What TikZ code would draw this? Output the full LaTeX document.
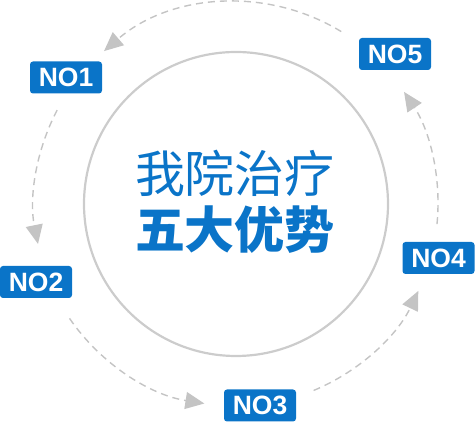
\documentclass[tikz,border=0pt]{standalone}
\usepackage{fontspec}
\setmainfont{Liberation Sans}
\newfontfamily\cjk{Noto Sans CJK SC}
\usepackage{tikz}
\usetikzlibrary{arrows.meta,calc}
\definecolor{noblue}{RGB}{10,116,200}
\definecolor{ringgray}{RGB}{204,204,204}
\definecolor{flowgray}{RGB}{196,196,196}

\begin{document}
\begin{tikzpicture}[x=1pt,y=1pt]
    \tikzstyle{badge}=[fill=noblue,text=white,rounded corners=3pt,minimum width=72pt,minimum height=32pt,inner sep=0pt,font=\fontsize{26.5}{26.5}\selectfont\bfseries]
    \tikzstyle{ring}=[draw=ringgray,line width=2.2pt]
    \tikzstyle{flow}=[draw=flowgray,line width=1.4pt,dash pattern=on 7pt off 5pt,-{Triangle[length=19pt,width=17pt,fill=flowgray]}]
    \tikzstyle{title}=[text=noblue,inner sep=0pt]

    \useasboundingbox (0,0) rectangle (475,422);
    \coordinate (C) at (236,218);

    % Draw the inner ring and the title
    \draw[ring] (C) circle[radius=152];
    \node[title,font=\cjk\fontsize{50}{50}\selectfont] (T-1) at (235,249) {我院治疗};
    \node[title,font=\cjk\bfseries\fontsize{50}{50}\selectfont] (T-2) at (235,192) {五大优势};

    % Draw the five badges
    \node[badge] (N-1) at (66,344.5) {NO1};
    \node[badge] (N-2) at (36,140) {NO2};
    \node[badge] (N-3) at (260,16.5) {NO3};
    \node[badge] (N-4) at (438.5,164) {NO4};
    \node[badge] (N-5) at (395,368) {NO5};

    % Dashed arcs between the badges
    \coordinate (A-5) at ($(C)+(58.6:202)$);
    \draw[flow] (A-5) arc[start angle=58.6,end angle=130.8,radius=202];
    \coordinate (A-1) at ($(C)+(152.3:202)$);
    \draw[flow] (A-1) arc[start angle=152.3,end angle=191.4,radius=202];
    \coordinate (A-2) at ($(C)+(214.5:202)$);
    \draw[flow] (A-2) arc[start angle=214.5,end angle=261,radius=202];
    \coordinate (A-3) at ($(C)+(292.6:202)$);
    \draw[flow] (A-3) arc[start angle=292.6,end angle=334.5,radius=202];
    \coordinate (A-4) at ($(C)+(354.3:202)$);
    \draw[flow] (A-4) arc[start angle=354.3,end angle=393.7,radius=202];
\end{tikzpicture}
\end{document}
